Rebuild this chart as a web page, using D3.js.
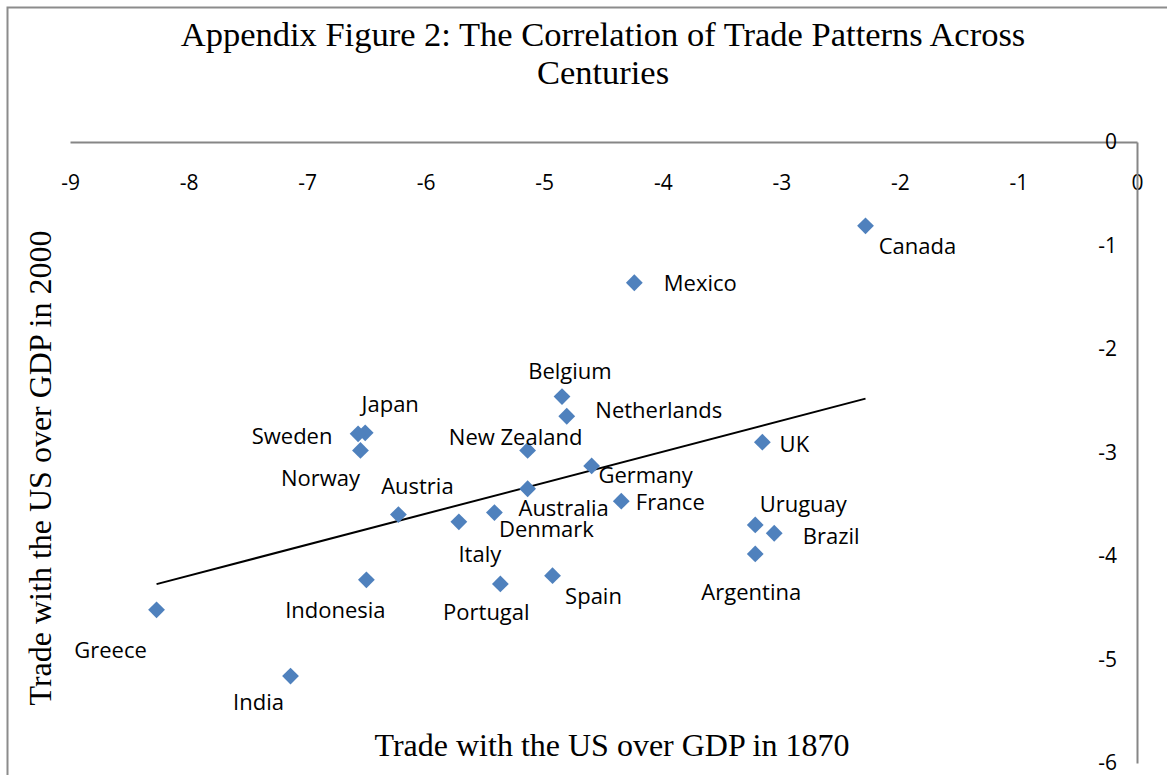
<!DOCTYPE html>
<html>
<head>
<meta charset="utf-8">
<script src="https://cdn.jsdelivr.net/npm/d3@7"></script>
<style>
body { margin: 0; background: #fff; }
svg { display: block; }
</style>
</head>
<body>
<div id="viz"></div>
<script>
var width = 1167;
var height = 775;

// data
var countries = ["Canada", "Mexico", "Belgium", "Netherlands", "New Zealand", "Germany", "UK",
	"Japan", "Sweden", "Norway", "Austria", "Italy", "Denmark", "Australia", "France",
	"Uruguay", "Brazil", "Argentina", "Indonesia", "Portugal", "Spain", "Greece", "India"];
var trade1870 = [-2.29, -4.24, -4.85, -4.81, -5.14, -4.60, -3.16,
	-6.51, -6.57, -6.55, -6.23, -5.72, -5.42, -5.14, -4.35,
	-3.22, -3.06, -3.22, -6.50, -5.37, -4.93, -8.27, -7.14];
var trade2000 = [-0.81, -1.36, -2.46, -2.65, -2.98, -3.13, -2.90,
	-2.81, -2.82, -2.98, -3.60, -3.67, -3.58, -3.35, -3.47,
	-3.70, -3.78, -3.98, -4.23, -4.27, -4.19, -4.52, -5.16];
var xTicks = [-9, -8, -7, -6, -5, -4, -3, -2, -1, 0];
var yTicks = [0, -1, -2, -3, -4, -5, -6];

// where each data label sits, offset from its marker (label centre)
var labelOffset = {
	"Canada": [52, 20], "Mexico": [66, 1], "Belgium": [8, -25], "Netherlands": [92, -6],
	"New Zealand": [-12, -13], "Germany": [54, 9], "UK": [32, 2], "Japan": [25, -29],
	"Sweden": [-66, 2], "Norway": [-40, 28], "Austria": [19, -28], "Italy": [21, 32],
	"Denmark": [52, 17], "Australia": [36, 20], "France": [49, 1], "Uruguay": [48, -21],
	"Brazil": [57, 3], "Argentina": [-4, 38], "Indonesia": [-31, 30], "Portugal": [-14, 28],
	"Spain": [41, 21], "Greece": [-46, 40], "India": [-32, 26]
};

var points = countries.map(function(c, i) {
	return { name: c, x: trade1870[i], y: trade2000[i] };
});

var x = d3.scaleLinear().domain([-9, 0]).range([70, 1137]);
var y = d3.scaleLinear().domain([0, -6]).range([142, 763]);

var serif = "'Liberation Serif', 'Times New Roman', serif";
var sans = "'Open Sans', 'Noto Sans', sans-serif";

var svg = d3.select("#viz").append("svg")
	.attr("width", width)
	.attr("height", height);

// chart area border (only top and left visible)
svg.append("path")
	.attr("d", "M7.5," + height + "V7.5H" + width)
	.attr("fill", "none")
	.attr("stroke", "#8c8c8c")
	.attr("stroke-width", 2);

svg.append("text")
	.attr("x", 603)
	.attr("y", 46)
	.attr("text-anchor", "middle")
	.style("font-family", serif)
	.style("font-size", "34.5px")
	.text("Appendix Figure 2: The Correlation of Trade Patterns Across");

svg.append("text")
	.attr("x", 603)
	.attr("y", 84)
	.attr("text-anchor", "middle")
	.style("font-family", serif)
	.style("font-size", "34.5px")
	.text("Centuries");

// axes: x along y=0 (top), y along x=0 (right)
var fmt = function(d) { return String(d); };
var xAxis = d3.axisBottom(x).tickValues(xTicks).tickSize(0).tickPadding(33).tickFormat(fmt);
var yAxis = d3.axisLeft(y).tickValues(yTicks).tickSize(0).tickPadding(20).tickFormat(fmt);

var gx = svg.append("g")
	.attr("transform", "translate(0," + y(0) + ")")
	.call(xAxis);
var gy = svg.append("g")
	.attr("transform", "translate(" + x(0) + ",0)")
	.call(yAxis);

[gx, gy].forEach(function(g) {
	g.select(".domain").attr("stroke", "#868686").attr("stroke-width", 2);
	g.selectAll("text")
		.attr("fill", "#000")
		.style("font-family", sans)
		.style("font-size", "21px");
});
gx.selectAll("text").attr("dy", "0.71em");

// trend line (ordinary least squares)
var mx = d3.mean(trade1870), my = d3.mean(trade2000);
var sxy = d3.sum(points, function(d) { return (d.x - mx) * (d.y - my); });
var sxx = d3.sum(points, function(d) { return (d.x - mx) * (d.x - mx); });
var slope = sxy / sxx;
var icpt = my - slope * mx;
var xr = d3.extent(trade1870);

svg.append("line")
	.attr("x1", x(xr[0]))
	.attr("y1", y(icpt + slope * xr[0]))
	.attr("x2", x(xr[1]))
	.attr("y2", y(icpt + slope * xr[1]))
	.attr("stroke", "#000")
	.attr("stroke-width", 2);

var diamond = d3.symbol().type(d3.symbolDiamond2).size(180);

svg.selectAll(".pt")
	.data(points)
	.enter().append("path")
	.attr("class", "pt")
	.attr("d", diamond)
	.attr("transform", function(d) { return "translate(" + x(d.x) + "," + y(d.y) + ")"; })
	.attr("fill", "#4f81bd");

svg.selectAll(".lbl")
	.data(points)
	.enter().append("text")
	.attr("class", "lbl")
	.attr("x", function(d) { return x(d.x) + labelOffset[d.name][0]; })
	.attr("y", function(d) { return y(d.y) + labelOffset[d.name][1]; })
	.attr("dy", "0.35em")
	.attr("text-anchor", "middle")
	.style("font-family", sans)
	.style("font-size", "22px")
	.text(function(d) { return d.name; });

svg.append("text")
	.attr("transform", "translate(51,468) rotate(-90)")
	.attr("text-anchor", "middle")
	.style("font-family", serif)
	.style("font-size", "32px")
	.text("Trade with the US over GDP in 2000");

svg.append("text")
	.attr("x", 612)
	.attr("y", 756)
	.attr("text-anchor", "middle")
	.style("font-family", serif)
	.style("font-size", "32px")
	.text("Trade with the US over GDP in 1870");
</script>
</body>
</html>
